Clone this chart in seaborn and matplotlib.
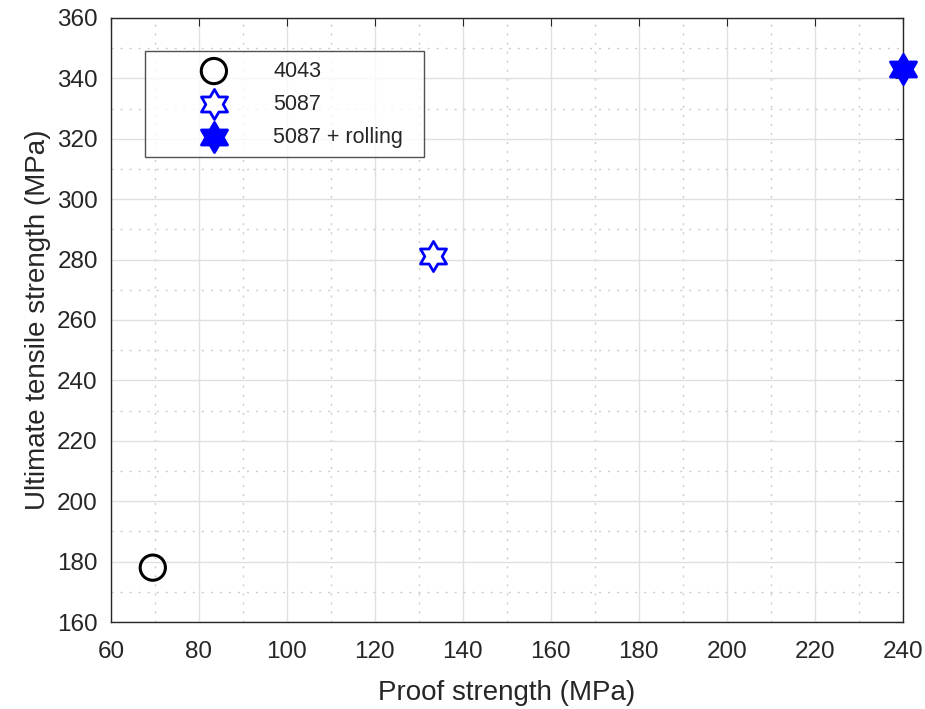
import matplotlib
matplotlib.use("Agg")
import numpy as np
import matplotlib.pyplot as plt
import seaborn as sns
from matplotlib.path import Path
from matplotlib.ticker import MultipleLocator

sns.set_style("white")
plt.rcParams["font.family"] = ["Liberation Sans", "DejaVu Sans"]

# Proof strength vs ultimate tensile strength for each alloy condition
materials = ["4043", "5087", "5087 + rolling"]
proof_strength = [69.5, 133.3, 240.0]
uts = [178.0, 281.3, 343.2]

# Six-pointed star (hexagram) marker, point up
ang = np.pi / 2 + np.arange(12) * np.pi / 6
rad = np.where(np.arange(12) % 2 == 0, 1.0, 1.0 / np.sqrt(3))
verts = np.column_stack([rad * np.cos(ang), rad * np.sin(ang)])
verts = np.vstack([verts, verts[:1]])
codes = [Path.MOVETO] + [Path.LINETO] * 11 + [Path.CLOSEPOLY]
hexagram = Path(verts, codes)

fig = plt.figure(figsize=(9.25, 7.09), dpi=100)
ax = fig.add_axes([0.12, 0.1227, 0.856, 0.852])

styles = {
    "4043": dict(marker="o", s=330, facecolor="none", edgecolor="black", linewidth=2.2),
    "5087": dict(marker=hexagram, s=470, facecolor="white", edgecolor="blue", linewidth=2.0),
    "5087 + rolling": dict(marker=hexagram, s=470, facecolor="blue", edgecolor="blue", linewidth=2.0),
}

for name, xv, yv in zip(materials, proof_strength, uts):
    sns.scatterplot(x=[xv], y=[yv], ax=ax, label=name, zorder=5, clip_on=False, **styles[name])

ax.set_xlim(60, 240)
ax.set_ylim(160, 360)
ax.xaxis.set_major_locator(MultipleLocator(20))
ax.xaxis.set_minor_locator(MultipleLocator(10))
ax.yaxis.set_major_locator(MultipleLocator(20))
ax.yaxis.set_minor_locator(MultipleLocator(10))

ax.grid(which="major", color="#e0e0e0", linestyle="-", linewidth=1.0)
ax.grid(which="minor", color="#cccccc", linestyle=(0, (1.5, 5)), linewidth=1.0)
ax.set_axisbelow(True)

for sp in ax.spines.values():
    sp.set_color("#262626")
    sp.set_linewidth(1.0)

ax.tick_params(which="both", direction="in", top=True, right=True, colors="#262626",
               labelsize=17.5, labelcolor="#262626")
ax.tick_params(which="major", length=6)
ax.tick_params(which="minor", length=0)
ax.tick_params(axis="x", pad=14)
ax.tick_params(axis="y", pad=9.5)

ax.set_xlabel("Proof strength (MPa)", fontsize=20, color="#262626", labelpad=12)
ax.set_ylabel("Ultimate tensile strength (MPa)", fontsize=20, color="#262626", labelpad=4.5)

leg_h = 105 / 709
leg = ax.legend(loc="upper left",
                bbox_to_anchor=(145 / 925, 1 - 51 / 709 - leg_h, 279 / 925, leg_h),
                bbox_transform=fig.transFigure, mode="expand",
                fontsize=15.5, frameon=True, fancybox=False, edgecolor="#262626",
                borderpad=0.45, handletextpad=0.0, labelspacing=0.56, markerscale=1.0,
                borderaxespad=0, handlelength=5.5)
leg.get_frame().set_linewidth(1.0)

fig.savefig("out.png", dpi=100)
